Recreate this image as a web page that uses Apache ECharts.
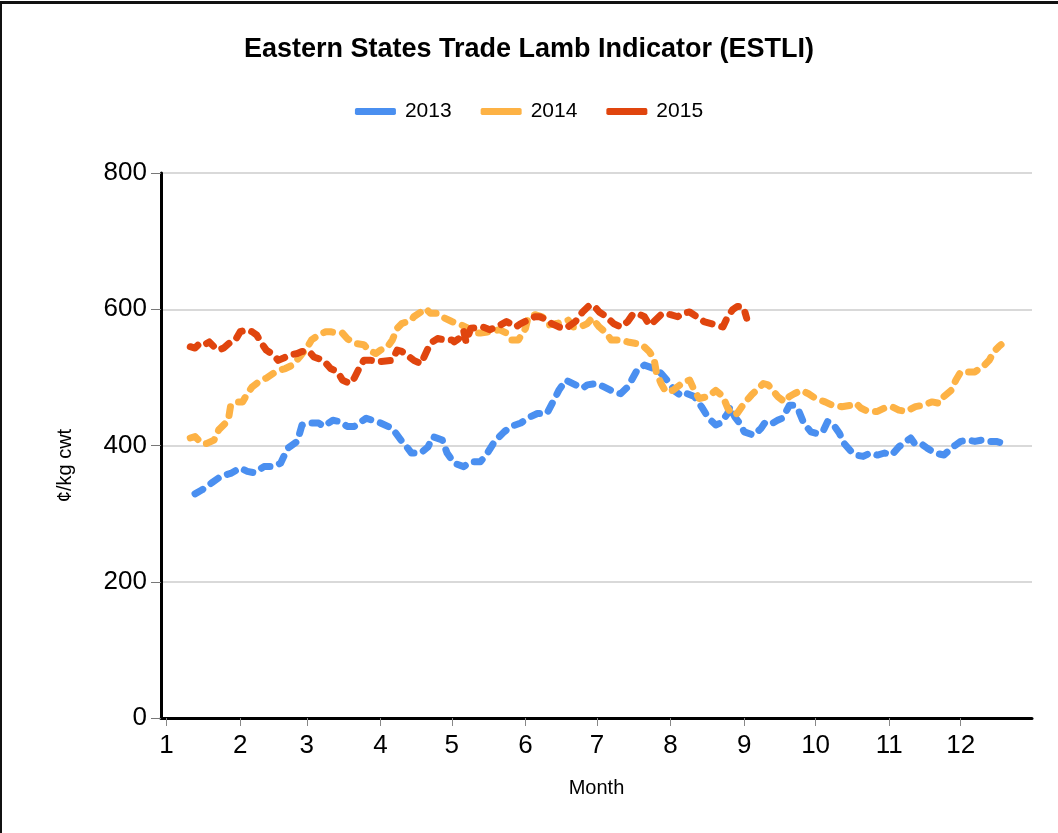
<!DOCTYPE html>
<html>
<head>
<meta charset="utf-8">
<title>ESTLI</title>
<script src="https://cdn.jsdelivr.net/npm/echarts@6/dist/echarts.min.js"></script>
<style>
  html, body { margin: 0; padding: 0; background: #fff; }
  #main { position: absolute; left: 0; top: 0; width: 1058px; height: 833px; }
  #frame { position: absolute; left: 0; top: 1px; width: 1058px; height: 832px;
           border-top: 3px solid #111; border-left: 2px solid #111; box-sizing: border-box;
           pointer-events: none; }
</style>
</head>
<body>
<div id="main"></div>
<div id="frame"></div>
<script>
// x = days since 1 Jan, ticks on the first day of each month
var monthStarts = [0, 31, 59, 90, 120, 151, 181, 212, 243, 273, 304, 334];
var monthLabels = ['1', '2', '3', '4', '5', '6', '7', '8', '9', '10', '11', '12'];

var seriesNames = ['2013', '2014', '2015'];

// 2013
var days2013 = [12, 15, 19, 23, 27, 31, 34, 37, 41, 45, 48, 51, 55, 57, 60, 64, 66, 70, 73, 76, 79, 84, 90, 95, 99, 101, 103, 107, 110, 112, 116, 118, 121, 125, 128, 132, 135, 138, 142, 145, 149, 153, 156, 160, 163, 165, 168, 172, 175, 177, 181, 184, 188, 191, 194, 198, 201, 205, 208, 211, 214, 217, 219, 222, 225, 228, 231, 233, 236, 237, 239, 241, 243, 247, 250, 252, 255, 257, 259, 262, 264, 266, 268, 271, 273, 276, 278, 280, 283, 285, 288, 290, 293, 296, 299, 302, 305, 308, 311, 313, 315, 318, 320, 323, 327, 330, 332, 334, 337, 340, 343, 346, 349, 352];
var vals2013 = [329, 335, 345, 355, 359, 367, 362, 360, 369, 369, 374, 396, 406, 430, 433, 433, 428, 437, 435, 428, 428, 440, 433, 425, 406, 398, 389, 389, 398, 413, 408, 389, 374, 369, 376, 376, 389, 406, 420, 428, 433, 442, 447, 447, 467, 481, 496, 489, 484, 489, 491, 486, 479, 476, 486, 511, 518, 513, 506, 494, 479, 472, 476, 472, 457, 440, 430, 433, 447, 457, 442, 433, 420, 415, 425, 435, 433, 437, 440, 459, 459, 450, 433, 420, 418, 420, 435, 433, 418, 403, 391, 386, 384, 389, 386, 389, 386, 398, 406, 411, 401, 401, 396, 389, 386, 396, 401, 406, 408, 406, 408, 406, 406, 403];

// 2014
var days2014 = [10, 12, 15, 17, 20, 22, 26, 27, 30, 32, 34, 36, 39, 42, 45, 48, 50, 53, 56, 59, 61, 64, 67, 69, 72, 74, 76, 79, 83, 85, 88, 90, 93, 95, 97, 99, 103, 104, 107, 109, 111, 114, 117, 120, 122, 124, 127, 129, 132, 136, 140, 143, 145, 148, 151, 152, 155, 158, 161, 164, 167, 169, 171, 174, 177, 179, 182, 185, 187, 191, 194, 197, 200, 203, 205, 206, 208, 210, 213, 216, 218, 220, 222, 224, 228, 231, 234, 236, 238, 240, 243, 246, 248, 251, 253, 255, 257, 260, 262, 264, 267, 270, 273, 277, 280, 284, 288, 290, 292, 295, 299, 302, 305, 308, 311, 315, 318, 322, 325, 327, 330, 332, 334, 337, 340, 344, 346, 348, 350, 351];
var vals2014 = [411, 413, 403, 403, 408, 423, 437, 459, 464, 464, 476, 486, 494, 499, 506, 511, 513, 518, 530, 543, 555, 562, 567, 567, 565, 565, 557, 550, 548, 540, 535, 540, 545, 555, 572, 579, 584, 589, 596, 601, 594, 594, 587, 582, 579, 577, 572, 565, 565, 567, 570, 565, 555, 555, 572, 587, 592, 589, 577, 579, 582, 584, 574, 574, 579, 587, 574, 565, 555, 555, 552, 550, 548, 538, 528, 508, 491, 479, 481, 489, 494, 496, 481, 469, 472, 481, 472, 455, 445, 447, 462, 474, 481, 491, 489, 481, 472, 464, 472, 476, 481, 476, 469, 464, 459, 457, 459, 462, 455, 450, 450, 455, 457, 452, 450, 457, 459, 464, 462, 472, 481, 496, 508, 508, 508, 518, 525, 538, 545, 548];

// 2015
var days2015 = [10, 12, 14, 16, 18, 20, 22, 24, 27, 29, 31, 34, 36, 38, 40, 42, 45, 47, 49, 52, 55, 57, 60, 62, 66, 69, 72, 74, 77, 79, 81, 83, 86, 89, 95, 97, 99, 101, 104, 107, 109, 111, 114, 117, 120, 121, 123, 125, 126, 128, 133, 136, 139, 143, 147, 149, 152, 155, 157, 160, 162, 165, 168, 172, 175, 178, 180, 182, 185, 188, 191, 194, 196, 198, 201, 203, 205, 208, 210, 212, 215, 217, 220, 223, 226, 229, 231, 234, 236, 238, 240, 242, 243, 244];
var vals2015 = [545, 543, 550, 548, 552, 545, 540, 543, 552, 555, 567, 570, 567, 562, 550, 540, 533, 525, 528, 533, 535, 538, 538, 530, 525, 513, 508, 496, 491, 499, 513, 525, 525, 523, 525, 540, 538, 533, 525, 520, 535, 550, 557, 555, 555, 552, 557, 568, 552, 572, 574, 570, 574, 582, 574, 579, 584, 589, 589, 584, 579, 574, 572, 582, 596, 606, 604, 596, 589, 579, 574, 582, 592, 594, 589, 577, 582, 592, 594, 592, 589, 594, 596, 589, 582, 579, 577, 574, 589, 599, 604, 604, 599, 587];

var colors = ['#4a8ff0', '#fdb245', '#e0450e'];
var font = 'Liberation Sans, Arial, sans-serif';

function pairs(days, vals) {
    var out = [];
    for (var i = 0; i < days.length; i++) {
        out.push([days[i], vals[i]]);
    }
    return out;
}

var allDays = [days2013, days2014, days2015];
var allVals = [vals2013, vals2014, vals2015];
var series = [];
for (var s = 0; s < seriesNames.length; s++) {
    series.push({
        name: seriesNames[s],
        type: 'line',
        showSymbol: false,
        symbol: 'none',
        color: colors[s],
        lineStyle: {
            width: 7,
            type: [9, 10],
            cap: 'round',
            join: 'round'
        },
        data: pairs(allDays[s], allVals[s])
    });
}

var myChart = echarts.init(document.getElementById('main'), null, { renderer: 'canvas' });
myChart.setOption({
    animation: false,
    textStyle: { fontFamily: font },
    title: {
        text: 'Eastern States Trade Lamb Indicator (ESTLI)',
        left: 'center',
        top: 31,
        textStyle: { fontSize: 27, fontWeight: 'bold', color: '#000', fontFamily: font }
    },
    legend: {
        top: 96,
        left: 'center',
        icon: 'roundRect',
        itemWidth: 41,
        itemHeight: 7,
        itemGap: 29,
        textStyle: { fontSize: 21, color: '#000', fontFamily: font, padding: [0, 0, 0, 4] },
        data: seriesNames
    },
    grid: { left: 161, right: 26, top: 173, bottom: 115, containLabel: false },
    xAxis: {
        type: 'value',
        min: -2.3,
        max: 364,
        name: 'Month',
        nameLocation: 'middle',
        nameGap: 60,
        nameTextStyle: { fontSize: 20, color: '#000', fontFamily: font },
        axisLine: { show: true, onZero: false, lineStyle: { color: '#000', width: 3 } },
        axisTick: { show: true, customValues: monthStarts, length: 8, lineStyle: { color: '#888' } },
        axisLabel: {
            customValues: monthStarts,
            fontSize: 26,
            color: '#000',
            margin: 15,
            formatter: function (v) {
                return monthLabels[monthStarts.indexOf(v)];
            }
        },
        splitLine: { show: false }
    },
    yAxis: {
        type: 'value',
        min: 0,
        max: 800,
        interval: 200,
        name: '¢/kg cwt',
        nameLocation: 'middle',
        nameGap: 86,
        nameTextStyle: { fontSize: 20, color: '#000', fontFamily: font, padding: [0, 40, 0, 0] },
        axisLine: { show: true, onZero: false, lineStyle: { color: '#000', width: 3 } },
        axisTick: { show: true, length: 10, lineStyle: { color: '#777' } },
        axisLabel: { fontSize: 26, color: '#000', margin: 14 },
        splitLine: { show: true, lineStyle: { color: '#d9d9d9', width: 2 } }
    },
    series: series
});
</script>
</body>
</html>
